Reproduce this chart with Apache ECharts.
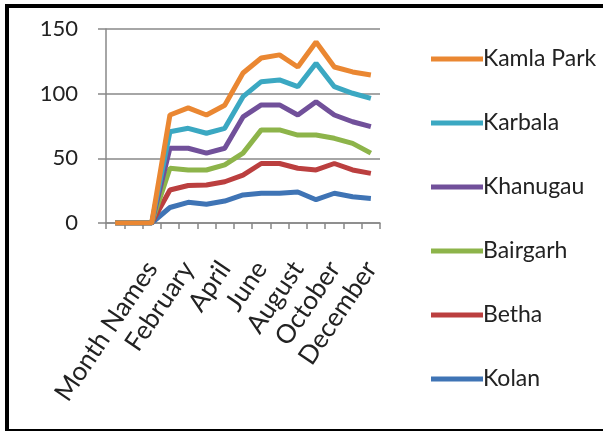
<!DOCTYPE html>
<html>
<head>
<meta charset="utf-8">
<script src="https://cdn.jsdelivr.net/npm/echarts@6/dist/echarts.min.js"></script>
<style>
html,body{margin:0;padding:0;background:#fff;}
#frame{position:absolute;left:5px;top:4px;width:598px;height:421px;border-left:4px solid #000;border-top:4px solid #000;border-bottom:4px solid #000;box-sizing:content-box;}
#chart{position:absolute;left:0;top:0;width:603px;height:431px;}
</style>
</head>
<body>
<div id="chart"></div>
<div id="frame"></div>
<script>
const categories = ["", "", "Month Names", "January", "February", "March", "April", "May", "June", "July", "August", "September", "October", "November", "December"];
const yTicks = [0, 50, 100, 150];
const kolan     = [0, 0, 0, 12, 16, 14.5, 17, 21.7, 23, 23, 24, 18, 23, 20.3, 19];
const betha     = [0, 0, 0, 25.5, 29, 29.4, 31.9, 37, 46, 46, 42.3, 41, 46, 41, 38.4];
const bairgarh  = [0, 0, 0, 42.3, 41, 41, 44.9, 54, 72, 72, 68, 68, 65.5, 61.6, 54];
const khanugau  = [0, 0, 0, 57.8, 57.8, 54, 57.8, 82, 91.3, 91.3, 83.5, 93.8, 83.5, 78.3, 74.5];
const karbala   = [0, 0, 0, 70.6, 73.2, 69.4, 73.2, 97.7, 109.3, 110.6, 105.4, 123.5, 105.4, 100.3, 96.4];
const kamlaPark = [0, 0, 0, 83.5, 89, 83.5, 91, 116, 127.6, 130, 120.6, 140, 120.6, 116.8, 114.5];

const seriesNames = ["Kolan", "Betha", "Bairgarh", "Khanugau", "Karbala", "Kamla Park"];
const seriesData = [kolan, betha, bairgarh, khanugau, karbala, kamlaPark];
const colors = ["#3F74B5", "#BB3F3F", "#8DB44A", "#71509A", "#3BA8C2", "#EA8732"];
const FONT = "Lato, 'Liberation Sans', sans-serif";

const chart = echarts.init(document.getElementById('chart'));
chart.setOption({
  animation: false,
  grid: {left: 106, top: 29, right: 223, bottom: 208, containLabel: false},
  legend: {
    orient: 'vertical',
    left: 426,
    top: 42,
    data: seriesNames.slice().reverse(),
    icon: 'rect',
    itemWidth: 52,
    itemHeight: 5,
    itemGap: 40,
    textStyle: {fontFamily: FONT, fontSize: 23, color: '#222', padding: [0,0,0,-5], lineHeight: 24}
  },
  xAxis: {
    type: 'category',
    data: categories,
    boundaryGap: true,
    axisLine: {lineStyle: {color: '#888', width: 1.5}},
    axisTick: {show: true, interval: 0, length: 6, lineStyle: {color: '#888', width: 1.5}},
    axisLabel: {interval: 1, rotate: 56, margin: 41, fontFamily: FONT, fontSize: 26, color: '#222'}
  },
  yAxis: {
    type: 'value',
    min: yTicks[0], max: yTicks[yTicks.length-1], interval: 50,
    axisLine: {show: true, lineStyle: {color: '#888', width: 1.5}},
    axisTick: {show: true, length: 8, lineStyle: {color: '#888', width: 1.5}},
    splitLine: {lineStyle: {color: '#888', width: 1.5}},
    axisLabel: {margin: 28, fontFamily: FONT, fontSize: 22, color: '#222'}
  },
  series: seriesNames.map((n, i) => ({
    name: n, type: 'line', data: seriesData[i],
    symbol: 'none', smooth: false,
    lineStyle: {width: 5, color: colors[i]},
    itemStyle: {color: colors[i]}
  }))
});
</script>
</body>
</html>
